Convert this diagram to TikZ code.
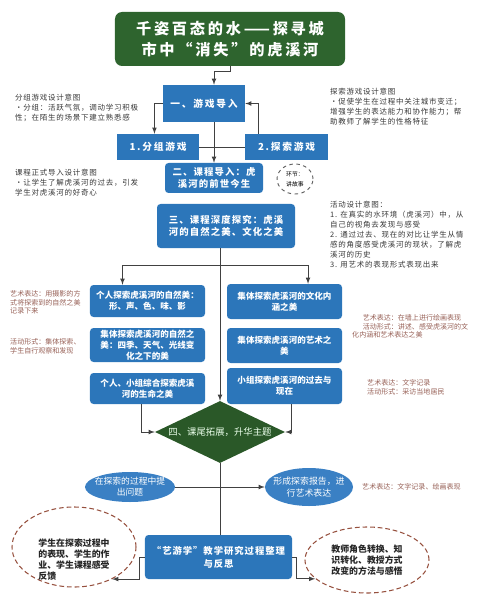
\documentclass[tikz,border=0pt]{standalone}
\usepackage{fontspec}
\usetikzlibrary{shapes.geometric}
\newfontfamily\cjk{Noto Sans CJK SC}
\newfontfamily\cjkwide{Noto Sans CJK SC}[LetterSpace=18]
\newfontfamily\cjkmid{Noto Sans CJK SC}[LetterSpace=12]
\newfontfamily\cjknote{Noto Sans CJK SC}[LetterSpace=10]
\definecolor{boxblue}{RGB}{44,118,186}
\definecolor{ellblue}{RGB}{58,128,196}
\definecolor{titlegreen}{RGB}{46,100,46}
\definecolor{diagreen}{RGB}{42,88,40}
\definecolor{dashbrown}{RGB}{150,80,62}
\definecolor{ringgray}{RGB}{95,95,95}
\definecolor{notegray}{RGB}{55,55,55}
\definecolor{artbrown}{RGB}{150,95,85}
\definecolor{linegray}{RGB}{65,65,65}
\newcommand{\zw}[1]{\makebox[0pt]{#1}}
\tikzset{
  bluebox/.style={fill=boxblue, text=white, inner sep=1pt, align=center,
    font=\cjk\bfseries\fontsize{7.3}{9.5}\selectfont},
  roundbox/.style={bluebox, rounded corners=3pt},
  note/.style={anchor=north west, align=left, text=notegray, inner sep=0pt,
    font=\cjknote\fontsize{6.4}{8.5}\selectfont},
  artnote/.style={note, text=artbrown, font=\cjk\fontsize{6}{7.6}\selectfont},
  link/.style={draw=linegray, line width=0.8pt},
  linkarrow/.style={link, -latex},
  bubble/.style={ellipse, draw=dashbrown, dash pattern=on 4pt off 2.5pt,
    line width=0.9pt, inner sep=0pt},
  bubbletext/.style={align=left, text=black!85, inner sep=0pt,
    font=\cjk\bfseries\fontsize{7.6}{9.4}\selectfont},
}
\begin{document}
\begin{tikzpicture}[x=0.03cm, y=-0.03cm]
    \useasboundingbox (0,0) rectangle (488,600);

    % 1. Tiêu đề
    \node[fill=titlegreen, rounded corners=6pt, text=white, align=center,
      minimum width=6.9cm, minimum height=1.62cm, inner sep=0pt,
      font=\cjkwide\bfseries\fontsize{13}{18.5}\selectfont]
      (title) at (230,39) {千姿百态的水——探寻城\\市中“消失”的虎溪河};

    % 2. Phần một: 游戏导入
    \node[bluebox, minimum width=2.46cm, minimum height=1.11cm,
      font=\cjkwide\bfseries\fontsize{8.3}{10}\selectfont]
      (g1) at (204,103.5) {一、游戏导入};
    \node[bluebox, minimum width=2.46cm, minimum height=0.78cm,
      font=\cjkwide\bfseries\fontsize{8.3}{10}\selectfont]
      (g11) at (158,147) {1.分组游戏};
    \node[bluebox, minimum width=2.49cm, minimum height=0.78cm,
      font=\cjkwide\bfseries\fontsize{8.3}{10}\selectfont]
      (g12) at (286.5,147) {2.探索游戏};

    % 3. Phần hai, ba
    \node[roundbox, minimum width=2.94cm, minimum height=0.9cm,
      font=\cjkmid\bfseries\fontsize{8}{11}\selectfont]
      (g2) at (214,178) {二、课程导入：虎\\溪河的前世今生};
    \node[ellipse, draw=ringgray, dashed, line width=0.8pt, inner sep=0pt,
      minimum width=1.08cm, minimum height=0.9cm, align=center,
      font=\cjk\fontsize{5}{8.5}\selectfont]
      (ring) at (295,179) {\zw{环节：}\\\zw{讲故事}};
    \node[roundbox, minimum width=4.14cm, minimum height=1.32cm,
      font=\cjkmid\bfseries\fontsize{8}{10.5}\selectfont]
      (g3) at (226,226) {三、课程深度探究：虎溪\\河的自然之美、文化之美};

    % 4. Hai cột hoạt động
    \node[roundbox, minimum width=3.45cm, minimum height=0.96cm]
      (L1) at (147.5,301) {个人探索虎溪河的自然美：\\形、声、色、味、影};
    \node[roundbox, minimum width=3.45cm, minimum height=1.02cm]
      (L2) at (147.5,345) {集体探索虎溪河的自然之\\美：四季、天气、光线变\\化之下的美};
    \node[roundbox, minimum width=3.45cm, minimum height=0.93cm]
      (L3) at (147.5,388.5) {个人、小组综合探索虎溪\\河的生命之美};
    \node[roundbox, minimum width=3.45cm, minimum height=1.05cm]
      (R1) at (284.5,301.5) {集体探索虎溪河的文化内\\涵之美};
    \node[roundbox, minimum width=3.45cm, minimum height=1.05cm]
      (R2) at (284.5,345.5) {集体探索虎溪河的艺术之\\美};
    \node[roundbox, minimum width=3.45cm, minimum height=1.08cm]
      (R3) at (284.5,386) {小组探索虎溪河的过去与\\现在};

    % 5. Phần bốn (hình thoi)
    \node[diamond, fill=diagreen, minimum width=3.9cm, minimum height=1.86cm,
      inner sep=0pt, text=green!8, font=\cjk\fontsize{8}{10}\selectfont]
      (dia) at (220,432) {\zw{四、课尾拓展，升华主题}};

    % 6. Hai hình elip
    \node[ellipse, fill=ellblue, minimum width=2.7cm, minimum height=0.9cm,
      inner sep=0pt, text=white, align=center,
      font=\cjk\fontsize{7.5}{9.5}\selectfont]
      (E1) at (130,487) {\zw{在探索的过程中提}\\\zw{出问题}};
    \node[ellipse, fill=ellblue, minimum width=2.64cm, minimum height=1.14cm,
      inner sep=0pt, text=white, align=center,
      font=\cjk\fontsize{7.6}{10}\selectfont]
      (E2) at (309,487) {\zw{形成探索报告，进}\\\zw{行艺术表达}};

    % 7. Tổng kết
    \node[roundbox, minimum width=4.41cm, minimum height=1.32cm,
      font=\cjknote\bfseries\fontsize{8}{11}\selectfont]
      (B) at (218.5,557) {“艺游学”教学研究过程整理\\与反思};
    \node[bubble, minimum width=3.72cm, minimum height=2.4cm] (D1) at (74,547) {};
    \node[bubbletext] (D1t) at (74,560) {学生在探索过程中\\的表现、学生的作\\业、学生课程感受\\反馈};
    \node[bubble, minimum width=3.72cm, minimum height=1.98cm, align=left,
      font=\cjk\bfseries\fontsize{7.6}{9.4}\selectfont, text=black!85]
      (D2) at (367,560) {教师角色转换、知\\识转化、教授方式\\改变的方法与感悟};

    % 8. Các đường nối
    \draw[linkarrow] (title.south) -- ++(0,5) -| (g1.north -| g2.north);
    \draw[linkarrow] (g1.west) -| (g11.105);
    \draw[linkarrow] (g12.155) |- (g1.east);
    \draw[link] (g11.east) -- (g12.west);
    \draw[linkarrow] (g1.south -| g2.north) -- (g2.north);
    \draw[linkarrow] (g3.south -| dia.north) -- (dia.north);
    \coordinate (split) at (220,265);
    \draw[linkarrow] (split) -| (L1.147);
    \draw[linkarrow] (split) -| (R1.37);
    \draw[linkarrow] (L3.-110) |- (dia.west);
    \draw[linkarrow] (R3.-70) |- (dia.east);
    \draw[link] (dia.south) -- (dia.south |- B.north);
    \draw[linkarrow] (E1.east) -- (E2.west);
    \draw[linkarrow] (B.west) -- ++(-5,0) |- (D1.-40);
    \draw[linkarrow] (B.east) -- ++(4,0) |- (D2.-160);

    % 9. Ghi chú hai bên
    \node[note] (t1) at (15,94) {分组游戏设计意图\\•分组：活跃气氛，调动学习积极\\性；在陌生的场景下建立熟悉感};
    \node[note] (t2) at (330,88) {探索游戏设计意图\\•促使学生在过程中关注城市变迁；\\增强学生的表达能力和协作能力；帮\\助教师了解学生的性格特征};
    \node[note] (t3) at (15,169) {课程正式导入设计意图\\•让学生了解虎溪河的过去，引发\\学生对虎溪河的好奇心};
    \node[note] (t4) at (330,201) {活动设计意图：\\1. 在真实的水环境（虎溪河）中，从\\自己的视角去发现与感受\\2. 通过过去、现在的对比让学生从情\\感的角度感受虎溪河的现状，了解虎\\溪河的历史\\3. 用艺术的表现形式表现出来};
    \node[artnote] (a1) at (10,290) {艺术表达：用摄影的方\\式将探索到的自然之美\\记录下来};
    \node[artnote] (a2) at (10,338) {活动形式：集体探索、\\学生自行观察和发现};
    \node[artnote] (a3) at (352,314) {\hspace*{1.5em}艺术表达：在墙上进行绘画表现\\\hspace*{1.5em}活动形式：讲述、感受虎溪河的文\\化内涵和艺术表达之美};
    \node[artnote] (a4) at (367,379) {艺术表达：文字记录\\活动形式：采访当地居民};
    \node[artnote, anchor=west] (a5) at (362,487) {艺术表达：文字记录、绘画表现};

\end{tikzpicture}
\end{document}
